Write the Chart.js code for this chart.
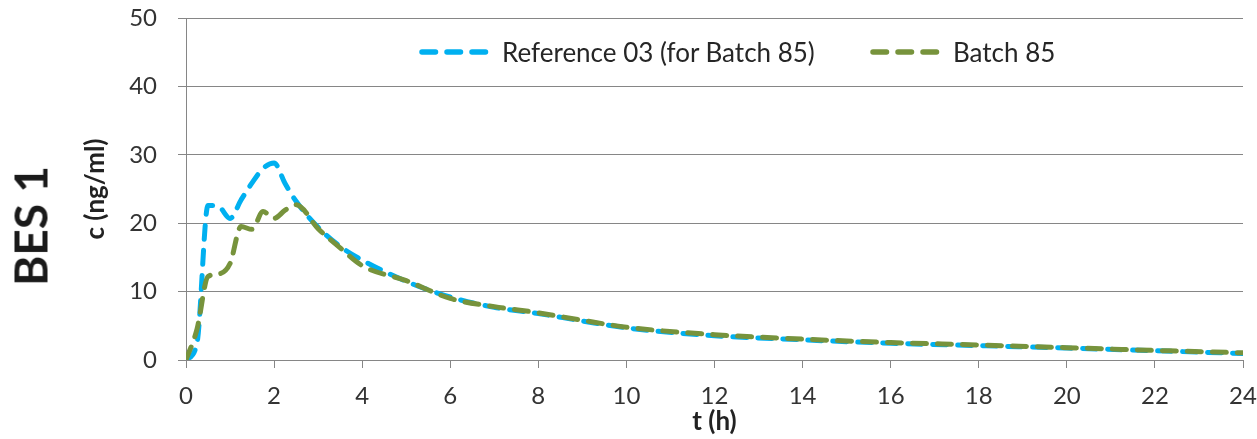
<!DOCTYPE html>
<html>
<head>
<meta charset="utf-8">
<script src="https://cdn.jsdelivr.net/npm/chart.js@4.4.1/dist/chart.umd.min.js"></script>
<style>
    html, body { margin: 0; padding: 0; background: #fff; }
    #wrap { position: relative; width: 1257px; height: 439px; }
    #bes {
        position: absolute; left: 30px; top: 226px;
        transform: translate(-50%, -50%) rotate(-90deg);
        font: bold 46px Lato; color: #1a1a1a; white-space: nowrap;
    }
    .leg { position: absolute; top: 38px; height: 28px; display: flex; align-items: center;
           font: 26px Lato; color: #262626; white-space: nowrap; }
    .leg svg { margin-right: 13px; }
</style>
</head>
<body>
<div id="wrap">
    <canvas id="chart" width="1257" height="439"></canvas>
    <div id="bes">BES 1</div>
    <div id="legend"></div>
</div>
<script>
// --- Data ---
const hours = [0, 0.25, 0.5, 0.75, 1, 1.25, 1.5, 1.75, 2, 2.25, 2.5, 3, 3.5, 4, 5, 6, 7, 8, 9, 10, 12, 14, 16, 18, 20, 22, 24];
const reference03 = [0, 2.5, 22.6, 22.4, 20.7, 23.4, 25.9, 28.0, 28.8, 25.8, 23.2, 19.4, 16.6, 14.6, 11.5, 9.2, 7.7, 6.8, 5.7, 4.7, 3.55, 2.95, 2.45, 2.1, 1.75, 1.35, 0.95];
const batch85 = [0, 4.5, 12.2, 12.6, 14.1, 19.5, 19.1, 21.7, 20.7, 21.9, 22.7, 19.2, 16.4, 13.8, 11.6, 9.0, 7.8, 6.9, 5.8, 4.8, 3.7, 3.05, 2.55, 2.2, 1.8, 1.4, 1.05];
const seriesNames = ['Reference 03 (for Batch 85)', 'Batch 85'];
const xTickStep = 2, yTickStep = 10;

const blue = '#00b0f0', green = '#77933c', gridGray = '#868686';
const pts = vals => hours.map((t, i) => ({ x: t, y: vals[i] }));
const lineStyle = { borderWidth: 5, borderDash: [14, 11], borderCapStyle: 'round', pointRadius: 0,
    cubicInterpolationMode: 'monotone', fill: false };

// --- Chart ---
// green first so it is painted on top of blue
const chart = new Chart(document.getElementById('chart'), {
    type: 'line',
    data: {
        datasets: [
            Object.assign({ label: seriesNames[1], data: pts(batch85), borderColor: green }, lineStyle),
            Object.assign({ label: seriesNames[0], data: pts(reference03), borderColor: blue }, lineStyle)
        ]
    },
    options: {
        responsive: false, animation: false, devicePixelRatio: 1,
        layout: { padding: { left: 78, right: 14, top: 18, bottom: 4 } },
        plugins: { legend: { display: false }, tooltip: { enabled: false } },
        scales: {
            x: {
                type: 'linear', min: 0, max: 24,
                ticks: { stepSize: xTickStep, padding: 16, color: '#333', font: { family: 'Lato', size: 24, lineHeight: 1 } },
                grid: { drawOnChartArea: false, drawTicks: true, tickLength: 8, color: gridGray },
                border: { color: gridGray },
                title: { display: true, text: 't (h)', color: '#222', padding: { top: 1, bottom: 0 },
                    font: { family: 'Lato', size: 26, weight: 'bold', lineHeight: 1 } },
                afterFit(s) { s.height = 75; s.paddingLeft = 0; s.paddingRight = 0; }
            },
            y: {
                min: 0, max: 50,
                ticks: { stepSize: yTickStep, padding: 21, color: '#333', font: { family: 'Lato', size: 24 } },
                grid: { color: gridGray, tickLength: 8 },
                border: { color: gridGray },
                title: { display: true, text: 'c (ng/ml)', color: '#222', padding: { top: 2, bottom: 0 },
                    font: { family: 'Lato', size: 26, weight: 'bold' } },
                afterFit(s) { s.width = 108; s.paddingTop = 0; s.paddingBottom = 0; }
            }
        }
    }
});

// --- Legend (inside plot, like the original) ---
const legendLeft = [419, 870];
[blue, green].forEach((c, i) => {
    const d = document.createElement('div');
    d.className = 'leg'; d.style.left = legendLeft[i] + 'px';
    d.innerHTML = '<svg width="70" height="10"><line x1="3" y1="5" x2="67" y2="5" stroke="' + c +
        '" stroke-width="5.5" stroke-linecap="round" stroke-dasharray="13.5 11.5"/></svg><span>' + seriesNames[i] + '</span>';
    document.getElementById('legend').appendChild(d);
});
</script>
</body>
</html>
